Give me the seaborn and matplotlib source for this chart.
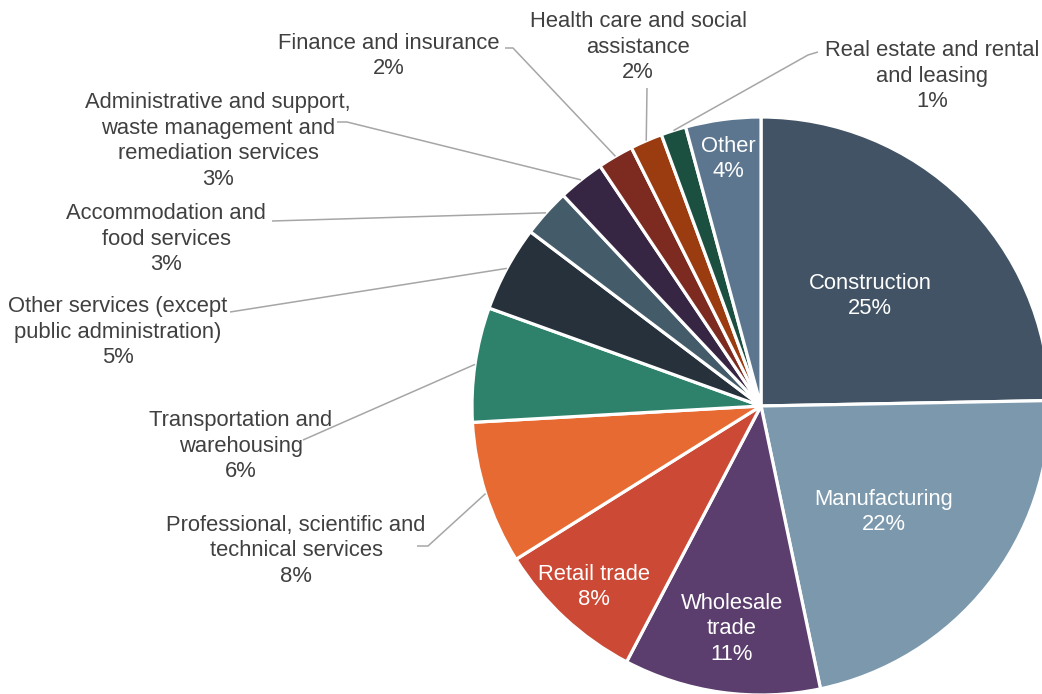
import numpy as np
import matplotlib
matplotlib.use("Agg")
import matplotlib.pyplot as plt
import seaborn as sns

# ---- data ----
categories = [
    "Construction", "Manufacturing", "Wholesale\ntrade", "Retail trade",
    "Professional, scientific and\ntechnical services", "Transportation and\nwarehousing",
    "Other services (except\npublic administration)", "Accommodation and\nfood services",
    "Administrative and support,\nwaste management and\nremediation services",
    "Finance and insurance", "Health care and social\nassistance",
    "Real estate and rental\nand leasing", "Other",
]
shares = [24.7, 22.0, 11.0, 8.4, 8.0, 6.4, 4.8, 2.7, 2.6, 2.0, 1.8, 1.4, 4.2]
colors = ["#415364", "#7b98ad", "#5b3e6e", "#cc4935", "#e86a33", "#2e826b",
          "#27313b", "#445b6a", "#372643", "#7d2b20", "#9b3b10", "#1b5040", "#5c7690"]

# ---- layout (pixel coordinates) ----
W, H = 1042, 694
CX, CY, R = 761, 406, 289
inside = {0: (870, 296), 1: (884, 512), 2: (732, 629), 3: (594, 587), 12: (728, 159)}
outside = {
    4: ((296, 551), [(417, 546), (428, 546)]),
    5: ((241, 446), [(303, 440)]),
    6: ((118, 332), [(230, 312)]),
    7: ((166, 239), [(272, 221)]),
    8: ((218, 141), [(337, 122), (347, 122)]),
    9: ((389, 56), [(505, 48), (513, 48)]),
    10: ((638, 47), [(647, 88)]),
    11: ((932, 76), [(818, 52), (808, 55)]),
}

sns.set_theme(style="white")
plt.rcParams["font.family"] = ["Liberation Sans", "DejaVu Sans"]
FS = 15.8
LS = 1.3
TXT = "#404040"
LINE = "#a6a6a6"

fig = plt.figure(figsize=(W / 100, H / 100), dpi=100)
ax = fig.add_axes([0, 0, 1, 1])
pal = sns.color_palette(colors)
wedges, _ = ax.pie(shares, colors=pal, startangle=270, counterclock=True,
                   center=(CX, CY), radius=R,
                   wedgeprops=dict(edgecolor="white", linewidth=2.3))
ax.set_xlim(0, W)
ax.set_ylim(H, 0)
ax.set_aspect("auto")
ax.axis("off")

def lab(i):
    return f"{categories[i]}\n{round(shares[i]):.0f}%"

for i, (x, y) in inside.items():
    ax.text(x, y, lab(i), ha="center", va="center", color="white",
            fontsize=FS, linespacing=LS, multialignment="center")

for i, ((x, y), pts) in outside.items():
    ax.text(x, y, lab(i), ha="center", va="center", color=TXT,
            fontsize=FS, linespacing=LS, multialignment="center")
    w = wedges[i]
    mid = np.deg2rad((w.theta1 + w.theta2) / 2)
    ex, ey = CX + R * np.cos(mid), CY + R * np.sin(mid)
    xs = [p[0] for p in pts] + [ex]
    ys = [p[1] for p in pts] + [ey]
    ax.plot(xs, ys, color=LINE, lw=1.1, solid_capstyle="butt")

fig.savefig("out.png", dpi=100)
